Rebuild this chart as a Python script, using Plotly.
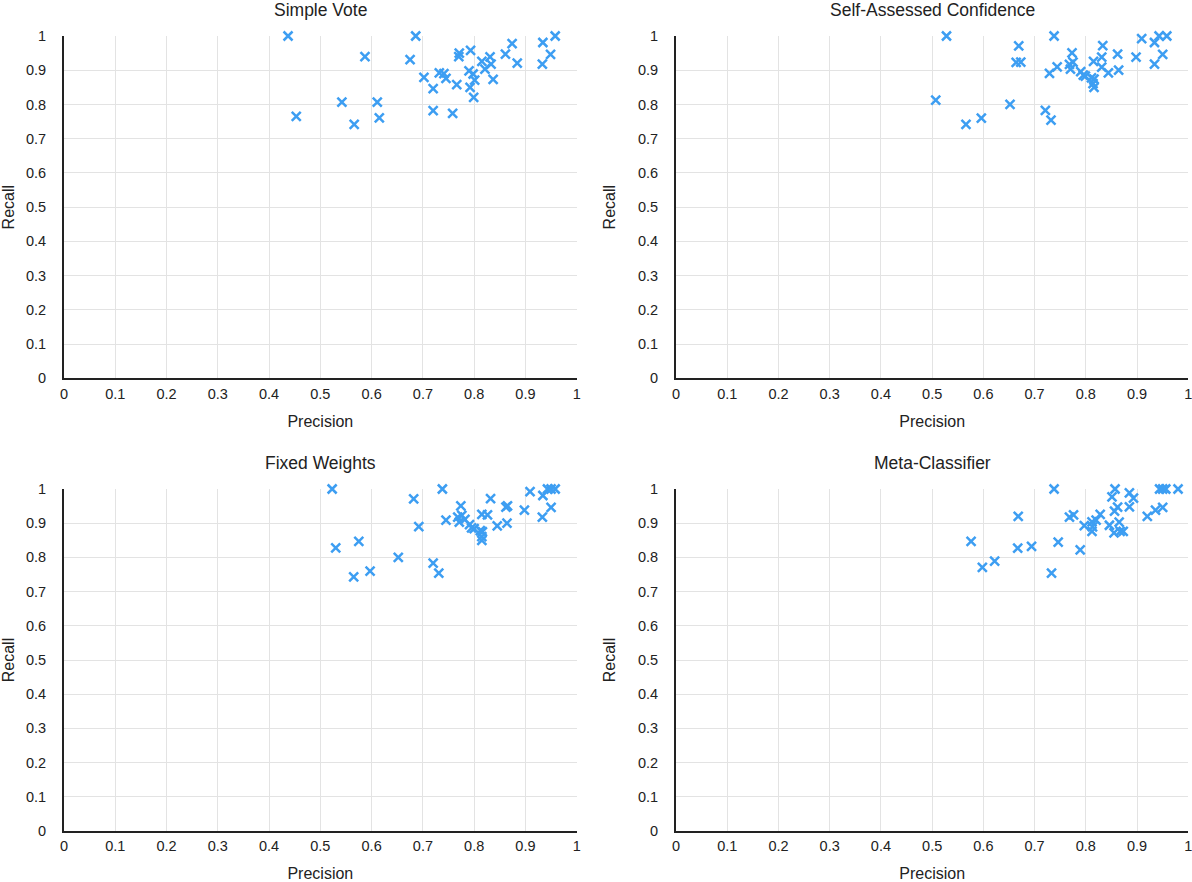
import plotly.graph_objects as go

# Simple Vote
sv_precision = [0.437, 0.686, 0.587, 0.675, 0.771, 0.770, 0.793, 0.874, 0.934, 0.958,
                0.949, 0.933, 0.884, 0.861, 0.831, 0.833, 0.815, 0.821, 0.837, 0.790,
                0.798, 0.801, 0.792, 0.799, 0.766, 0.732, 0.741, 0.745, 0.702, 0.720,
                0.720, 0.758, 0.611, 0.615, 0.542, 0.566, 0.453]
sv_recall = [1.0, 1.0, 0.940, 0.931, 0.950, 0.940, 0.958, 0.978, 0.981, 1.0,
             0.946, 0.918, 0.921, 0.947, 0.939, 0.918, 0.926, 0.903, 0.873, 0.898,
             0.889, 0.871, 0.850, 0.821, 0.858, 0.892, 0.890, 0.876, 0.879, 0.846,
             0.782, 0.774, 0.807, 0.761, 0.807, 0.742, 0.765]

# Self-Assessed Confidence
sac_precision = [0.528, 0.738, 0.669, 0.664, 0.673, 0.507, 0.566, 0.596, 0.652, 0.721,
                 0.732, 0.729, 0.744, 0.773, 0.768, 0.775, 0.770, 0.790, 0.795, 0.799,
                 0.811, 0.816, 0.814, 0.816, 0.815, 0.831, 0.833, 0.831, 0.844, 0.862,
                 0.864, 0.898, 0.909, 0.934, 0.943, 0.958, 0.950, 0.934]
sac_recall = [1.0, 1.0, 0.971, 0.923, 0.924, 0.813, 0.742, 0.760, 0.800, 0.783,
              0.754, 0.891, 0.910, 0.951, 0.917, 0.924, 0.903, 0.896, 0.886, 0.883,
              0.878, 0.874, 0.861, 0.850, 0.926, 0.938, 0.972, 0.909, 0.892, 0.947,
              0.900, 0.938, 0.992, 0.981, 1.0, 1.0, 0.946, 0.918]

# Fixed Weights
fw_precision = [0.523, 0.738, 0.682, 0.692, 0.530, 0.575, 0.565, 0.597, 0.652, 0.720,
                0.731, 0.745, 0.774, 0.768, 0.776, 0.771, 0.782, 0.791, 0.795, 0.800,
                0.812, 0.816, 0.815, 0.815, 0.815, 0.826, 0.832, 0.845, 0.862, 0.865,
                0.864, 0.898, 0.909, 0.934, 0.943, 0.950, 0.958, 0.950, 0.933]
fw_recall = [1.0, 1.0, 0.971, 0.890, 0.828, 0.847, 0.743, 0.760, 0.800, 0.783,
             0.754, 0.909, 0.951, 0.918, 0.923, 0.903, 0.911, 0.896, 0.886, 0.884,
             0.878, 0.875, 0.861, 0.850, 0.926, 0.924, 0.972, 0.892, 0.947, 0.951,
             0.900, 0.938, 0.992, 0.981, 1.0, 1.0, 1.0, 0.946, 0.918]

# Meta-Classifier
mc_precision = [0.738, 0.857, 0.851, 0.885, 0.893, 0.885, 0.862, 0.856, 0.944, 0.950,
                0.956, 0.980, 0.950, 0.936, 0.920, 0.668, 0.768, 0.776, 0.746, 0.789,
                0.797, 0.812, 0.820, 0.828, 0.813, 0.812, 0.846, 0.865, 0.855, 0.867,
                0.873, 0.576, 0.598, 0.622, 0.667, 0.694, 0.733]
mc_recall = [1.0, 1.0, 0.977, 0.989, 0.973, 0.948, 0.947, 0.935, 1.0, 1.0,
             1.0, 1.0, 0.946, 0.938, 0.920, 0.920, 0.918, 0.924, 0.845, 0.822,
             0.893, 0.904, 0.909, 0.926, 0.889, 0.876, 0.894, 0.903, 0.872, 0.876,
             0.876, 0.847, 0.771, 0.789, 0.827, 0.832, 0.754]

titles = ["Simple Vote", "Self-Assessed Confidence", "Fixed Weights", "Meta-Classifier"]
series = [(sv_precision, sv_recall), (sac_precision, sac_recall),
          (fw_precision, fw_recall), (mc_precision, mc_recall)]
tick_vals = [0, 0.1, 0.2, 0.3, 0.4, 0.5, 0.6, 0.7, 0.8, 0.9, 1]
tick_text = ["0", "0.1", "0.2", "0.3", "0.4", "0.5", "0.6", "0.7", "0.8", "0.9", "1"]

W, H = 1192, 882


def px_x(v):
    return v / W


def px_y(v):
    return 1 - v / H


x_domains = [[px_x(64), px_x(576.7)], [px_x(676), px_x(1188.3)]]
y_domains = [[px_y(378.3), px_y(36)], [px_y(831), px_y(489)]]

font = dict(family="Liberation Sans, Arial, sans-serif", size=14.5, color="#222")
blue = "#3d9ef2"

fig = go.Figure()
for i, (title, (prec, rec)) in enumerate(zip(titles, series)):
    row, col = divmod(i, 2)
    n = i + 1
    xa = "x" if n == 1 else f"x{n}"
    ya = "y" if n == 1 else f"y{n}"
    fig.add_trace(go.Scatter(
        x=prec, y=rec, mode="markers", xaxis=xa, yaxis=ya, cliponaxis=False,
        marker=dict(symbol="x-thin", size=9, line=dict(width=2.5, color=blue), color=blue),
        showlegend=False,
    ))
    axis_common = dict(
        range=[0, 1], showgrid=True, gridcolor="#e3e3e3",
        gridwidth=1, zeroline=False, showline=True, linecolor="#222", linewidth=2,
        ticks="", tickfont=font, automargin=False, fixedrange=True,
        tickvals=tick_vals, ticktext=tick_text, ticklabeloverflow="allow",
    )
    fig.layout[f"xaxis{'' if n == 1 else n}"] = dict(
        axis_common, domain=x_domains[col], anchor=ya,
        ticklabelstandoff=1,
        title=dict(text="Precision", font=dict(font, size=16), standoff=15),
    )
    fig.layout[f"yaxis{'' if n == 1 else n}"] = dict(
        axis_common, domain=y_domains[row], anchor=xa,
        ticklabelstandoff=13,
        title=dict(text="Recall", font=dict(font, size=16), standoff=18),
    )
    fig.add_annotation(
        text=title, xref="paper", yref="paper", showarrow=False,
        x=sum(x_domains[col]) / 2, y=y_domains[row][1] + 26 / H,
        xanchor="center", yanchor="middle", font=dict(font, size=17.5),
    )

fig.update_layout(
    width=W, height=H, margin=dict(l=0, r=0, t=0, b=0),
    plot_bgcolor="white", paper_bgcolor="white",
)

# drop the default body margin so the figure fills the window exactly
fig.write_html(
    "out.html",
    config={"displayModeBar": False},
    post_script="document.body.style.margin='0';document.body.style.overflow='hidden';",
)
